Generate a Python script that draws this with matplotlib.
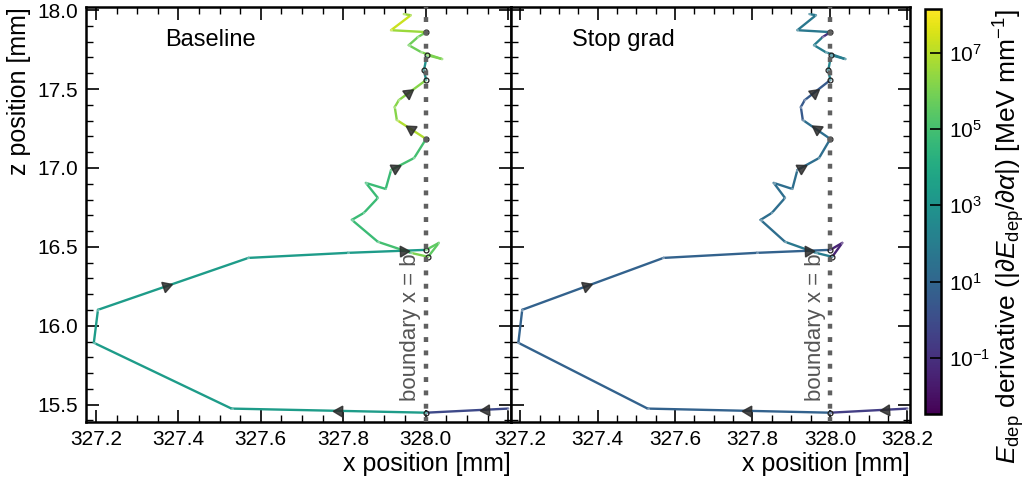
import numpy as np
import matplotlib
matplotlib.use("Agg")
import matplotlib.pyplot as plt
from matplotlib.collections import LineCollection
from matplotlib.colors import LogNorm
from matplotlib.cm import ScalarMappable
from matplotlib.ticker import MultipleLocator, FixedLocator, NullLocator, FuncFormatter

# ---- track data -------------------------------------------------------------
x_pos = [328.200, 328.001, 327.529, 327.195, 327.205, 327.570, 327.811, 328.001,
         328.032, 328.006, 327.964, 327.884, 327.821, 327.850, 327.884, 327.855,
         327.903, 327.916, 327.972, 328.001, 327.930, 327.925, 327.935, 328.001,
         327.996, 328.003, 328.040, 327.989, 327.959, 327.981, 328.001, 327.916,
         327.964, 327.947]
z_pos = [15.475, 15.449, 15.475, 15.892, 16.101, 16.430, 16.462, 16.481,
         16.525, 16.437, 16.462, 16.532, 16.671, 16.715, 16.810, 16.905,
         16.867, 16.987, 17.063, 17.184, 17.304, 17.386, 17.430, 17.557,
         17.620, 17.715, 17.690, 17.734, 17.778, 17.829, 17.861, 17.873,
         17.968, 17.975]

# |dE_dep / d alpha| per step [MeV / mm]
deriv_baseline = [0.73, 2.3e3, 2.3e3, 2.3e3, 2.3e3, 2.3e3, 2.3e3, 3.2e5,
                  3.2e5, 1.1e6, 9.1e4, 5.6e4, 5.6e4, 5.6e4, 5.6e4, 5.6e4,
                  5.6e4, 9.1e4, 9.1e4, 7.6e6, 1.7e6, 1.7e6, 1.7e6, 6.9e2,
                  6.9e2, 1.1e6, 1.1e6, 6.5e5, 6.5e5, 6.5e5, 3.6e6, 2.0e7,
                  3.6e6]
deriv_stopgrad = [0.28, 6.6, 6.6, 6.6, 6.6, 6.6, 6.6, 0.039,
                  0.039, 98, 60, 22, 22, 22, 22, 22,
                  22, 22, 22, 22, 3.2, 3.2, 3.2, 2.0e2,
                  2.0e2, 98, 98, 98, 98, 0.13, 60, 60,
                  60]

panel_titles = ["Baseline", "Stop grad"]
boundary_x = 328.0
cbar_ticks = [1e-1, 1e1, 1e3, 1e5, 1e7]

# direction markers: (segment index, fraction along segment)
arrow_segments = [0, 1, 4, 6, 17, 19, 22]
arrow_fracs = [0.27, 0.45, 0.45, 0.7, 0.15, 0.5, 0.35]

# ---- style ------------------------------------------------------------------
plt.rcParams.update({
    "font.family": ["Liberation Sans", "DejaVu Sans"],
    "mathtext.fontset": "custom",
    "mathtext.rm": "Liberation Sans",
    "mathtext.it": "Liberation Sans:italic",
    "mathtext.bf": "Liberation Sans:bold",
    "mathtext.sf": "Liberation Sans",
    "xtick.direction": "in",
    "ytick.direction": "in",
    "xtick.top": True,
    "ytick.right": True,
    "xtick.major.size": 9,
    "ytick.major.size": 9,
    "xtick.minor.size": 5,
    "ytick.minor.size": 5,
    "xtick.major.width": 1.2,
    "ytick.major.width": 1.2,
    "xtick.minor.width": 1.0,
    "ytick.minor.width": 1.0,
    "xtick.minor.visible": True,
    "ytick.minor.visible": True,
    "xtick.labelsize": 15,
    "ytick.labelsize": 15,
    "axes.linewidth": 1.8,
    "xtick.major.pad": 6,
    "ytick.major.pad": 6,
})

cmap = plt.get_cmap("viridis")
norm = LogNorm(vmin=3.4e-3, vmax=1.4e8)

W, H = 1029, 478
fig = plt.figure(figsize=(W / 100, H / 100), dpi=100)
ax1 = fig.add_axes([86 / W, 1 - 422 / H, 425 / W, 415 / H])
ax2 = fig.add_axes([511 / W, 1 - 422 / H, 399 / W, 415 / H])
cax = fig.add_axes([925 / W, 1 - 414 / H, 16 / W, 405 / H])

x = np.array(x_pos)
z = np.array(z_pos)
pts = np.column_stack([x, z])
segs = np.stack([pts[:-1], pts[1:]], axis=1)


def x_fmt(v, _):
    if v > 328.1:
        return ""
    return f"{v:.1f}"


def draw_panel(ax, values, title, title_x):
    ax.set_xlim(327.176, 328.207)
    ax.set_ylim(15.39, 18.02)
    ax.xaxis.set_major_locator(MultipleLocator(0.2))
    ax.xaxis.set_minor_locator(MultipleLocator(0.05))
    ax.yaxis.set_major_locator(MultipleLocator(0.5))
    ax.yaxis.set_minor_locator(MultipleLocator(0.1))
    ax.yaxis.set_major_formatter(FuncFormatter(lambda v, _: f"{v:.1f}"))

    lc = LineCollection(segs, colors=cmap(norm(np.array(values))),
                        linewidths=1.7, capstyle="round", joinstyle="round",
                        zorder=2)
    ax.add_collection(lc)

    # faint vertex dots
    ax.scatter(x, z, s=5, color="white", alpha=0.35, lw=0, zorder=3)

    # crossings of the boundary plane
    on_b = np.abs(x - boundary_x) < 0.006
    ax.plot(x[on_b], z[on_b], "o", ms=3.5, mfc="none", mec="#222222",
            mew=0.9, zorder=4)

    # direction-of-travel markers
    for si, fr in zip(arrow_segments, arrow_fracs):
        p0, p1 = pts[si], pts[si + 1]
        pm = p0 + fr * (p1 - p0)
        d0 = ax.transData.transform(p0)
        d1 = ax.transData.transform(p1)
        ang = np.degrees(np.arctan2(d1[1] - d0[1], d1[0] - d0[0]))
        ax.plot(pm[0], pm[1], marker=(3, 0, ang - 90), ms=9,
                color="#2b2b2b", alpha=0.85, lw=0, zorder=5)

    ax.axvline(boundary_x, color="#606060", lw=3.2,
               dashes=(1.1, 1.9), zorder=6)
    ax.text(327.962, 15.52, "boundary x = b", rotation=90, ha="center",
            va="bottom", fontsize=16, color="#555555", zorder=7)
    ax.text(title_x, 0.92, title, transform=ax.transAxes, fontsize=17,
            va="center", ha="left")
    ax.set_xlabel("x position [mm]", loc="right", fontsize=18, labelpad=2)


draw_panel(ax1, deriv_baseline, panel_titles[0], 0.186)
draw_panel(ax2, deriv_stopgrad, panel_titles[1], 0.153)

ax1.xaxis.set_major_formatter(FuncFormatter(x_fmt))
ax2.xaxis.set_major_formatter(FuncFormatter(lambda v, _: f"{v:.1f}"))
ax2.tick_params(axis="y", labelleft=False)
ax1.set_ylabel("z position [mm]", loc="top", fontsize=18, labelpad=4)

sm = ScalarMappable(norm=norm, cmap=cmap)
cb = fig.colorbar(sm, cax=cax)
cb.outline.set_linewidth(1.8)
cb.ax.yaxis.set_major_locator(FixedLocator(cbar_ticks))
cb.ax.yaxis.set_minor_locator(NullLocator())
cb.ax.tick_params(which="major", direction="in", length=8, width=1.2,
                  labelsize=15, right=True, left=False)
cb.set_label(r"$E_{\mathrm{dep}}$ derivative ($|\partial E_{\mathrm{dep}}/\partial\alpha|$) [MeV mm$^{-1}$]",
             loc="top", fontsize=19, labelpad=0)

fig.savefig("out.png", dpi=100)
